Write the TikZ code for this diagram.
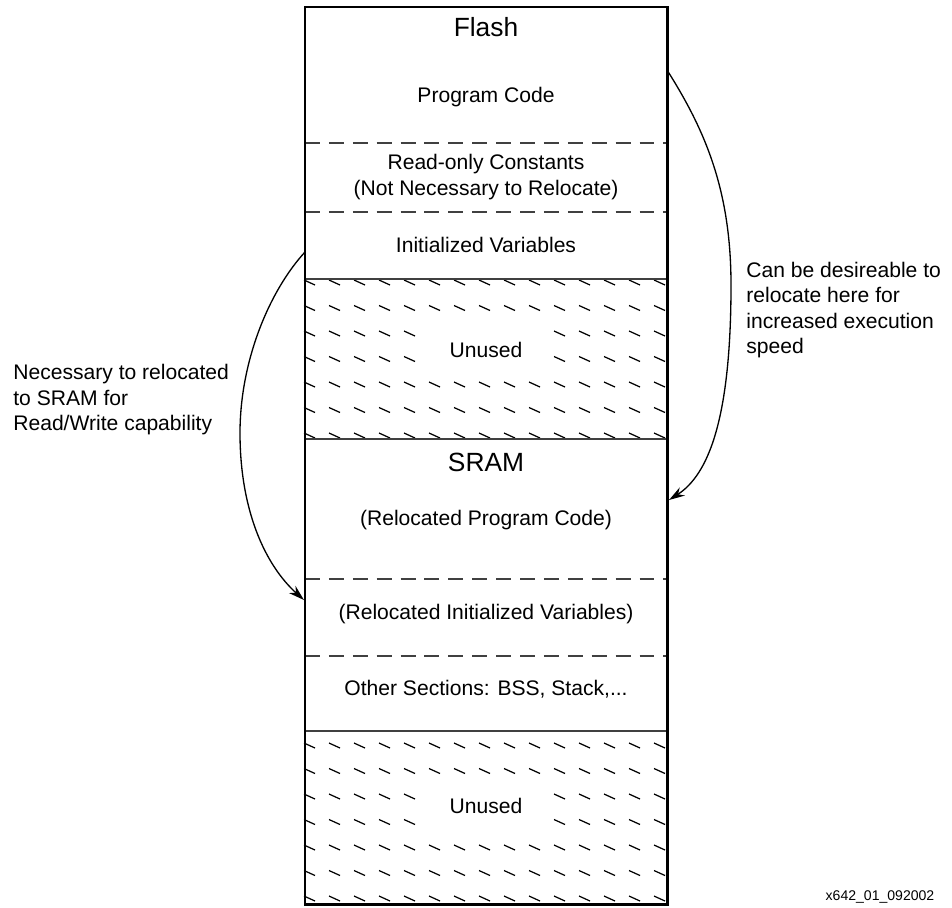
\documentclass[tikz,border=0pt]{standalone}
\usepackage{fontspec}
\setmainfont{Liberation Sans}
\usetikzlibrary{arrows.meta}
\begin{document}
\begin{tikzpicture}[x=0.02cm,y=-0.02cm,
	every node/.style={font=\fontsize{12}{14.5}\selectfont},
	title/.style={font=\fontsize{15}{18}\selectfont},
	note/.style={align=left,anchor=west,inner sep=0pt},
	part/.style={black!75,line width=0.85pt},
	partdash/.style={part,dash pattern=on 8.5pt off 5.1pt},
	hatch/.style={line width=0.7pt},
	move/.style={line width=0.75pt,-{Stealth[length=9pt,width=5.5pt]}}]
	\useasboundingbox (0,0) rectangle (952,907);
	% hatched unused areas, gap left for the label
	\foreach \top in {280,743}{
		\foreach \r in {0,...,6}{
			\foreach \c in {0,...,14}{
				\pgfmathtruncatemacro\gap{(\r==2 || \r==3) && \c>4 && \c<10}
				\ifnum\gap=0 \draw[hatch] ({304+25*\c},{\top+25.5*\r}) -- ++(11,5); \fi
			}
		}
	}
	% section borders
	\draw[partdash] (305,143) -- (667,143);
	\draw[partdash] (305,212) -- (667,212);
	\draw[part] (305,279) -- (667,279);
	\draw[part] (305,439) -- (667,439);
	\draw[partdash] (305,579) -- (667,579);
	\draw[partdash] (305,656) -- (667,656);
	\draw[part] (305,731) -- (667,731);
	\draw[line width=1.7pt] (305,7) rectangle (667,904);
	% flash
	\node[title] (flash) at (486,27) {Flash};
	\node (code) at (486,97) {Program Code};
	\node[align=center] (const) at (486,177) {Read-only Constants\\(Not Necessary to Relocate)};
	\node (init) at (486,245) {Initialized Variables};
	\node[fill=white,inner sep=1pt] (unused1) at (486,350) {Unused};
	% sram
	\node[title] (sram) at (486,462) {SRAM};
	\node (rcode) at (486,520) {(Relocated Program Code)};
	\node (rinit) at (486,614) {(Relocated Initialized Variables)};
	\node (other) at (486,689) {Other Sections: BSS, Stack,...};
	\node[fill=white,inner sep=1pt] (unused2) at (486,806) {Unused};
	% notes
	\node[note] (rwnote) at (13,400) {Necessary to relocated\\to SRAM for\\Read/Write capability};
	\node[note] (speednote) at (746,310) {Can be desireable to\\relocate here for\\increased execution\\speed};
	\node[font=\fontsize{8}{10}\selectfont] (figid) at (880,897) {x642\_01\_092002};
	% relocation arrows
	\coordinate (iv) at (305,252);
	\coordinate (riv) at (304,600);
	\coordinate (pc) at (667,70);
	\coordinate (rpc) at (669,500);
	\draw[move] (iv) .. controls (270,290) and (240,360) .. (240,433) .. controls (240,510) and (265,565) .. (riv);
	\draw[move] (pc) .. controls (705,130) and (731,190) .. (731,285) .. controls (731,420) and (708,475) .. (rpc);
\end{tikzpicture}
\end{document}
